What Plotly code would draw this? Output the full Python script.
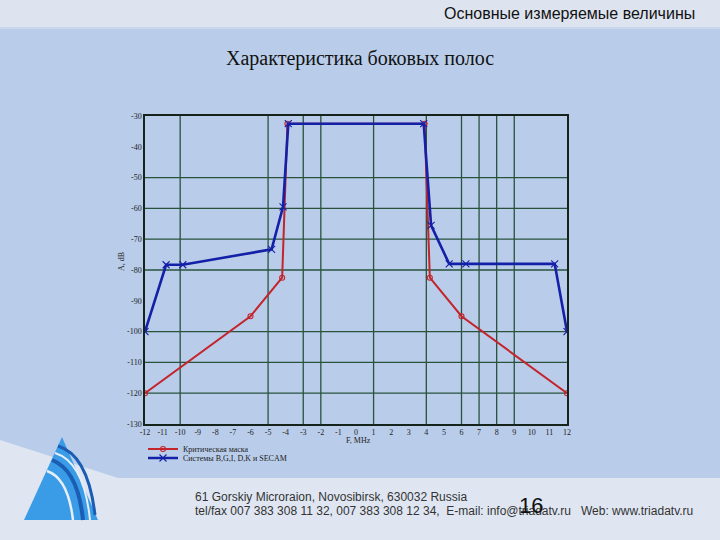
import plotly.graph_objects as go

# ---- data ----
mask_x = [-12, -6, -4.2, -3.9, 3.9, 4.2, 6, 12]
mask_y = [-120, -95, -82.5, -32.5, -32.5, -82.5, -95, -120]

sys_x = [-12, -10.8, -9.85, -4.8, -4.15, -3.85, 3.85, 4.27, 5.3, 6.25, 11.3, 12]
sys_y = [-100, -78.3, -78.3, -73.3, -59.5, -32.5, -32.5, -65.5, -78, -78, -78, -100]

x_ticks = list(range(-12, 13))
y_ticks = list(range(-130, -29, 10))
x_grid = [-10, -5, -3, -2, 1, 4, 6, 7, 8, 9]
y_grid = [-50, -60, -70, -80, -100, -110, -120]

series_names = ["Критическая маска", "Системы B,G,I, D,K и SECAM"]

# ---- layout geometry (pixels) ----
W, H = 720, 540
L, R, T, B = 145, 567, 116, 424


def px(x):
    return (x - L) / (R - L)


def py(y):
    return (B - y) / (B - T)


fig = go.Figure()
fig.add_trace(go.Scatter(
    x=mask_x, y=mask_y, mode="lines+markers", name=series_names[0], legend="legend",
    line=dict(color="#c4242c", width=2),
    marker=dict(symbol="circle-open", size=5, color="#c4242c", line=dict(width=1.1)),
))
fig.add_trace(go.Scatter(
    x=sys_x, y=sys_y, mode="lines+markers", name=series_names[1], legend="legend2",
    line=dict(color="#1420a8", width=2.6),
    marker=dict(symbol="x-thin", size=7, color="#1420a8", line=dict(width=1.1, color="#1420a8")),
))

shapes = []
# background decorations
shapes.append(dict(type="rect", xref="paper", yref="paper", x0=px(0), x1=px(W), y0=py(0), y1=py(27),
                   fillcolor="#dde4ef", line=dict(width=0), layer="below"))
shapes.append(dict(type="line", xref="paper", yref="paper", x0=px(0), x1=px(W), y0=py(28), y1=py(28),
                   line=dict(color="#c9d6ea", width=2), layer="below"))
poly = [(0, 440), (118, 478), (W, 478), (W, H), (0, H)]
path = "M " + " L ".join(f"{px(a)},{py(b)}" for a, b in poly) + " Z"
shapes.append(dict(type="path", xref="paper", yref="paper", path=path,
                   fillcolor="#dfe6f2", line=dict(width=0), layer="below"))

# logo
tri = [(24, 520), (62, 437), (98, 520)]
path = "M " + " L ".join(f"{px(a)},{py(b)}" for a, b in tri) + " Z"
shapes.append(dict(type="path", xref="paper", yref="paper", path=path,
                   fillcolor="#3a9be6", line=dict(width=0), layer="below"))
for (sx, sy), (cx, cy), (ex, ey), col, w in [
    ((47, 471), (68, 478), (73, 520), "#e6eef8", 2.5),
    ((52, 460), (78, 470), (83, 520), "#1b5db4", 4),
    ((55, 453), (84, 462), (90, 520), "#e6eef8", 2),
    ((58, 446), (88, 455), (95, 515), "#1b5db4", 3),
]:
    shapes.append(dict(type="path", xref="paper", yref="paper",
                       path=f"M {px(sx)},{py(sy)} Q {px(cx)},{py(cy)} {px(ex)},{py(ey)}",
                       line=dict(color=col, width=w), layer="below"))

# grid lines
for gx in x_grid:
    shapes.append(dict(type="line", xref="x", yref="paper", x0=gx, x1=gx, y0=0, y1=1,
                       line=dict(color="#28523c", width=1.3), layer="below"))
for gy in y_grid:
    shapes.append(dict(type="line", xref="paper", yref="y", x0=0, x1=1, y0=gy, y1=gy,
                       line=dict(color="#28523c", width=1.3), layer="below"))

annotations = [
    dict(text="Основные измеряемые величины", x=px(697), y=py(14), xref="paper", yref="paper",
         xanchor="right", yanchor="middle", showarrow=False,
         font=dict(family="Liberation Sans, Arial", size=16, color="#111111")),
    dict(text="Характеристика боковых полос", x=px(360), y=py(58), xref="paper", yref="paper",
         xanchor="center", yanchor="middle", showarrow=False,
         font=dict(family="Liberation Serif, Times New Roman", size=20, color="#111111")),
    dict(text="F, MHz", x=px(358), y=py(440), xref="paper", yref="paper",
         xanchor="center", yanchor="middle", showarrow=False,
         font=dict(family="Liberation Serif", size=8, color="#222222")),
    dict(text="A, dB", x=px(121), y=py(262), xref="paper", yref="paper", textangle=-90,
         xanchor="center", yanchor="middle", showarrow=False,
         font=dict(family="Liberation Serif", size=8, color="#222222")),
    dict(text="61 Gorskiy Microraion, Novosibirsk, 630032 Russia", x=px(193), y=py(497), xref="paper",
         yref="paper", xanchor="left", yanchor="middle", showarrow=False,
         font=dict(family="Liberation Sans, Arial", size=12, color="#333333")),
    dict(text="tel/fax 007 383 308 11 32, 007 383 308 12 34,  E-mail: info@triadatv.ru   Web: www.triadatv.ru",
         x=px(193), y=py(511), xref="paper", yref="paper", xanchor="left", yanchor="middle",
         showarrow=False, font=dict(family="Liberation Sans, Arial", size=12, color="#333333")),
    dict(text="16", x=px(531), y=py(505), xref="paper", yref="paper", xanchor="center", yanchor="middle",
         showarrow=False, font=dict(family="Liberation Sans, Arial", size=22, color="#111111")),
]

legend_common = dict(xanchor="left", yanchor="middle", bgcolor="rgba(0,0,0,0)",
                     font=dict(family="Liberation Serif", size=8, color="#222222"),
                     itemwidth=30, tracegroupgap=0)

fig.update_layout(
    width=W, height=H,
    margin=dict(l=L, r=W - R, t=T, b=H - B),
    paper_bgcolor="#b9cdea", plot_bgcolor="rgba(0,0,0,0)",
    shapes=shapes, annotations=annotations,
    showlegend=True,
    legend=dict(x=px(143), y=py(449), **legend_common),
    legend2=dict(x=px(143), y=py(458), **legend_common),
    xaxis=dict(range=[-12, 12], tickmode="array", tickvals=x_ticks, ticktext=[str(v) for v in x_ticks],
               showgrid=False, zeroline=False, showline=True, mirror=True, linecolor="#15231b",
               linewidth=1.5, ticks="", tickfont=dict(family="Liberation Serif", size=8, color="#222222")),
    yaxis=dict(range=[-130, -30], tickmode="array", tickvals=y_ticks, ticktext=[str(v) for v in y_ticks],
               showgrid=False, zeroline=False, showline=True, mirror=True, linecolor="#15231b",
               linewidth=1.5, ticks="", tickfont=dict(family="Liberation Serif", size=8, color="#222222")),
)

fig.write_html("out.html")
